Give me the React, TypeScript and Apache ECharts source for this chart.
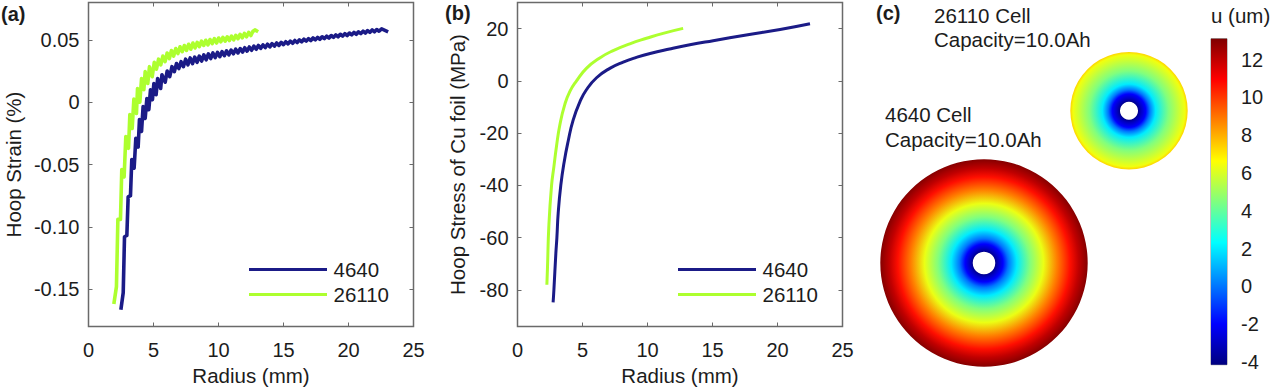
import React, { useEffect, useRef } from "react";
import * as echarts from "echarts";

const FONT = "Liberation Sans";
const INK = "#1c1c1c";
const FRAME = "#6a6a6a";
const NAVY = "#1b1b87";
const LIME = "#adff2f";

const radiusTicks = [0, 5, 10, 15, 20, 25];
const strainTicks = [-0.15, -0.1, -0.05, 0, 0.05];
const strainTickLabels = ["-0.15", "-0.10", "-0.05", "0", "0.05"];
const stressTicks = [-80, -60, -40, -20, 0, 20];
const uTicks = [-4, -2, 0, 2, 4, 6, 8, 10, 12];

const strain4640 = [
  [2.49, -0.1665], [2.67, -0.153], [2.77, -0.108], [2.95, -0.107], [3.05, -0.076], [3.23, -0.075],
  [3.33, -0.046], [3.51, -0.053], [3.64, -0.029], [3.82, -0.036], [3.92, -0.014], [4.08, -0.0235],
  [4.2, -0.0035], [4.36, -0.013], [4.49, 0.003], [4.64, -0.006], [4.77, 0.01], [4.92, 0.002],
  [5.03, 0.015], [5.2, 0.006], [5.32, 0.019], [5.55, 0.011], [5.65, 0.022], [5.9, 0.016], [6.05, 0.025],
  [6.25, 0.0205], [6.42, 0.0285], [6.6, 0.0245], [6.77, 0.031], [6.95, 0.027], [7.12, 0.0325],
  [7.3, 0.0285], [7.47, 0.0345], [7.65, 0.03], [7.82, 0.0355], [8.0, 0.031], [8.17, 0.0362],
  [8.35, 0.032], [8.52, 0.037], [8.7, 0.033], [8.87, 0.038], [9.05, 0.034], [9.22, 0.0388],
  [9.4, 0.035], [9.57, 0.0395], [9.75, 0.0358], [9.92, 0.04], [10.1, 0.0365], [10.27, 0.0405],
  [10.45, 0.0373], [10.62, 0.0412], [10.8, 0.038], [10.97, 0.0418], [11.15, 0.0388], [11.32, 0.0425],
  [11.5, 0.0395], [11.67, 0.043], [11.85, 0.0402], [12.02, 0.0437], [12.2, 0.041], [12.37, 0.0443],
  [12.55, 0.0417], [12.72, 0.045], [12.9, 0.0425], [13.07, 0.0455], [13.25, 0.0432], [13.42, 0.046],
  [13.6, 0.0438], [13.77, 0.0465], [13.95, 0.0444], [14.12, 0.047], [14.3, 0.045], [14.47, 0.0475],
  [14.65, 0.0456], [14.82, 0.048], [15.0, 0.0462], [15.17, 0.0485], [15.35, 0.0468], [15.52, 0.049],
  [15.7, 0.0473], [15.87, 0.0495], [16.05, 0.0479], [16.22, 0.05], [16.4, 0.0485], [16.57, 0.0505],
  [16.75, 0.049], [16.92, 0.051], [17.1, 0.0495], [17.27, 0.0515], [17.45, 0.05], [17.62, 0.052],
  [17.8, 0.0505], [17.97, 0.0525], [18.15, 0.051], [18.32, 0.053], [18.5, 0.0515], [18.67, 0.0535],
  [18.85, 0.052], [19.02, 0.054], [19.2, 0.0525], [19.37, 0.0545], [19.55, 0.053], [19.72, 0.055],
  [19.9, 0.0535], [20.07, 0.0555], [20.25, 0.054], [20.42, 0.056], [20.6, 0.0545], [20.77, 0.0565],
  [20.95, 0.055], [21.12, 0.057], [21.3, 0.0555], [21.47, 0.0575], [21.65, 0.056], [21.82, 0.058],
  [22.0, 0.0565], [22.17, 0.0583], [22.35, 0.057], [22.55, 0.0588], [23.05, 0.0565],
];

const strain26110 = [
  [1.95, -0.162], [2.15, -0.148], [2.26, -0.094], [2.46, -0.094], [2.56, -0.054], [2.74, -0.06],
  [2.87, -0.0275], [3.08, -0.037], [3.18, -0.01], [3.36, -0.021], [3.49, 0.0025], [3.69, -0.009],
  [3.77, 0.011], [3.95, 0.0], [4.08, 0.019], [4.26, 0.01], [4.36, 0.0245], [4.56, 0.015], [4.69, 0.0285],
  [4.9, 0.0205], [5.06, 0.032], [5.23, 0.0265], [5.39, 0.0345], [5.56, 0.03], [5.72, 0.037],
  [5.89, 0.0325], [6.05, 0.0395], [6.22, 0.035], [6.38, 0.0415], [6.55, 0.037], [6.71, 0.043],
  [6.88, 0.039], [7.04, 0.0445], [7.21, 0.0405], [7.37, 0.0455], [7.54, 0.0415], [7.7, 0.0465],
  [7.87, 0.0425], [8.03, 0.0475], [8.2, 0.0435], [8.36, 0.048], [8.53, 0.0445], [8.69, 0.049],
  [8.86, 0.0455], [9.02, 0.0497], [9.19, 0.046], [9.35, 0.0503], [9.52, 0.047], [9.68, 0.051],
  [9.85, 0.0475], [10.01, 0.0515], [10.18, 0.0485], [10.34, 0.052], [10.51, 0.049], [10.67, 0.0525],
  [10.84, 0.0495], [11.0, 0.053], [11.17, 0.05], [11.33, 0.0537], [11.5, 0.051], [11.66, 0.0545],
  [11.83, 0.0517], [11.99, 0.0552], [12.16, 0.0525], [12.32, 0.056], [12.49, 0.0535], [12.65, 0.057],
  [12.8, 0.058], [13.05, 0.0565],
];

const stress4640 = [
  [2.74, -84.8], [2.8, -80], [2.95, -66], [3.03, -60], [3.13, -50.6], [3.33, -40], [3.59, -31],
  [3.9, -23], [4.28, -15], [4.8, -8], [5.3, -3.4], [6.08, 1.2], [7.1, 4.8], [8.13, 7.2],
  [9.15, 9], [10.2, 10.5], [11.7, 12.2], [13.26, 13.8], [15.05, 15.4], [17.6, 17.6], [20.2, 19.7], [22.5, 21.9],
];

const stress26110 = [
  [2.26, -78], [2.31, -71], [2.41, -55.7], [2.62, -40], [2.8, -32.8], [3.0, -25], [3.26, -16.8],
  [3.64, -9], [4.03, -4], [4.54, 0], [5.3, 4.8], [6.33, 8.8], [7.36, 11.6], [8.64, 14.2],
  [9.92, 16.3], [11.2, 18.2], [12.74, 20.1],
];

// radial displacement profile: [radius in mm, u in um]
const u4640 = [
  [2.5, -3.9], [3.2, -3.0], [4.2, -2], [5.4, 0], [7.3, 2], [10.2, 4.5], [13.2, 6.3], [16.2, 8.8], [19.1, 10.7], [21, 12], [23, 13],
];
const u26110 = [
  [2, -3.9], [2.7, -3], [3.7, -2], [4.6, 0], [5.9, 2], [8.8, 4.5], [11.6, 6], [12.4, 6.4], [13, 7.4],
];

const uMin = -4.14;
const uMax = 13.1;
const jetStops: [number, string][] = [
  [0, "#00007f"], [0.125, "#0000ff"], [0.375, "#00ffff"], [0.625, "#ffff00"], [0.875, "#ff0000"], [1, "#7f0000"],
];

function hexToRgb(h: string) {
  return [1, 3, 5].map((i) => parseInt(h.slice(i, i + 2), 16));
}
function jet(u: number) {
  const t = Math.min(1, Math.max(0, (u - uMin) / (uMax - uMin)));
  for (let i = 1; i < jetStops.length; i++) {
    if (t <= jetStops[i][0]) {
      const [t0, c0] = jetStops[i - 1];
      const [t1, c1] = jetStops[i];
      const f = (t - t0) / (t1 - t0);
      const a = hexToRgb(c0);
      const b = hexToRgb(c1);
      const m = a.map((v, k) => Math.round(v + (b[k] - v) * f));
      return `rgb(${m[0]},${m[1]},${m[2]})`;
    }
  }
  return jetStops[jetStops.length - 1][1];
}

const discRender = (profile: number[][]) => (params: any, api: any) => {
  const cs = params.coordSys;
  const outerVal = profile[profile.length - 1][0];
  const innerVal = profile[0][0];
  const px = (v: number) => {
    const p = api.coord([v, 0]);
    return Math.hypot(p[0] - cs.cx, p[1] - cs.cy);
  };
  return {
    type: "ring",
    shape: { cx: cs.cx, cy: cs.cy, r: px(outerVal), r0: px(innerVal) },
    style: {
      fill: new echarts.graphic.RadialGradient(
        0.5, 0.5, 0.5,
        [{ offset: 0, color: jet(profile[0][1]) }].concat(
          profile.map(([r, u]) => ({ offset: r / outerVal, color: jet(u) }))
        )
      ),
    },
  };
};

const barRender = (_params: any, api: any) => {
  const top = api.coord([0, uMax]);
  const bottom = api.coord([0, uMin]);
  const size = api.size([1, 0]);
  return {
    type: "rect",
    shape: { x: top[0] - size[0] / 2, y: top[1], width: size[0], height: bottom[1] - top[1] },
    style: {
      fill: new echarts.graphic.LinearGradient(
        0, 1, 0, 0,
        jetStops.map(([offset, color]) => ({ offset, color }))
      ),
    },
  };
};

const label = { color: INK, fontFamily: FONT, fontSize: 20 };
const hiddenLine = { show: false, onZero: false };
const tick = (values?: number[]) => ({
  show: true,
  inside: true,
  length: 4,
  lineStyle: { color: FRAME, width: 1 },
  ...(values ? { customValues: values } : {}),
});

const xAxes = (gridIndex: number) => [
  {
    type: "value", gridIndex, min: 0, max: 25, interval: 5, position: "bottom",
    name: "Radius (mm)", nameLocation: "middle", nameGap: 38, nameMoveOverlap: false,
    nameTextStyle: { ...label, fontSize: 20.5 },
    axisLine: hiddenLine, splitLine: { show: false },
    axisTick: tick(),
    axisLabel: { ...label, margin: 13, customValues: radiusTicks },
  },
  {
    type: "value", gridIndex, min: 0, max: 25, interval: 5, position: "top",
    axisLine: hiddenLine, splitLine: { show: false }, axisLabel: { show: false },
    axisTick: tick(),
  },
];

const yAxes = (
  gridIndex: number, min: number, max: number, ticks: number[], name: string, nameGap: number,
  fmt: (v: number) => string, margin: number
) => [
  {
    type: "value", gridIndex, min, max, position: "left",
    name, nameLocation: "middle", nameGap, nameMoveOverlap: false,
    nameTextStyle: { ...label, fontSize: 20.5 },
    axisLine: hiddenLine, splitLine: { show: false },
    axisTick: tick(ticks),
    axisLabel: { ...label, margin, padding: [5, 0, 0, 0], customValues: ticks, formatter: fmt },
  },
  {
    type: "value", gridIndex, min, max, position: "right",
    axisLine: hiddenLine, splitLine: { show: false }, axisLabel: { show: false },
    axisTick: tick(ticks),
  },
];

const text = (x: number, y: number, t: string, bold = false) => ({
  type: "text",
  x, y,
  style: {
    text: t, fill: INK, fontFamily: FONT, fontSize: bold ? 20 : 20.5,
    fontWeight: bold ? "bold" : "normal", verticalAlign: "middle", align: "left",
  },
});

const curve = (name: string, color: string, data: number[][], x: number, y: number, width: number, smooth: boolean) => ({
  type: "line", name, data, xAxisIndex: x, yAxisIndex: y, color,
  showSymbol: false, smooth,
  lineStyle: { color, width, join: "round" },
});

const legend = (left: number) => ({
  left, top: 254, orient: "vertical", icon: "rect", itemWidth: 78, itemHeight: 3, itemGap: 4,
  data: ["4640", "26110"],
  selectedMode: false,
  textStyle: { ...label, fontSize: 20.5, padding: [0, 0, 0, 1.5] },
});

export default function App() {
  const ref = useRef<HTMLDivElement>(null);
  useEffect(() => {
    document.body.style.margin = "0";
    const chart = echarts.init(ref.current!, null, { renderer: "svg" });
    chart.setOption({
      animation: false,
      backgroundColor: "#ffffff",
      grid: [
        { left: 88.5, top: 2.5, width: 325, height: 324, outerBoundsMode: "none", show: true, borderColor: FRAME, borderWidth: 1.5, backgroundColor: "transparent" },
        { left: 517.5, top: 2.5, width: 325, height: 324, outerBoundsMode: "none", show: true, borderColor: FRAME, borderWidth: 1.5, backgroundColor: "transparent" },
        { left: 1211, top: 38.7, width: 16, height: 326, outerBoundsMode: "none", show: true, borderColor: "#888888", borderWidth: 1, backgroundColor: "transparent" },
      ],
      xAxis: [
        ...xAxes(0),
        ...xAxes(1),
        { type: "category", gridIndex: 2, data: ["u"], show: false },
      ],
      yAxis: [
        ...yAxes(0, -0.18, 0.08, strainTicks, "Hoop Strain (%)", 65,
          (v) => strainTickLabels[strainTicks.findIndex((t) => Math.abs(t - v) < 1e-6)] ?? "", 9),
        ...yAxes(1, -94, 30, stressTicks, "Hoop Stress of Cu foil (MPa)", 50, (v) => String(v), 9),
        {
          type: "value", gridIndex: 2, min: uMin, max: uMax, position: "right",
          axisLine: hiddenLine, splitLine: { show: false },
          axisTick: { show: true, inside: true, length: 2, customValues: uTicks, lineStyle: { color: "#555555", width: 1 } },
          axisLabel: { ...label, margin: 14, customValues: uTicks },
        },
        {
          type: "value", gridIndex: 2, min: uMin, max: uMax, position: "left",
          axisLine: hiddenLine, splitLine: { show: false }, axisLabel: { show: false },
          axisTick: { show: true, inside: true, length: 2, customValues: uTicks, lineStyle: { color: "#555555", width: 1 } },
        },
      ],
      polar: [
        { center: [984, 263], radius: [0, 103.7] },
        { center: [1129, 110.7], radius: [0, 58.7] },
      ],
      radiusAxis: [
        { polarIndex: 0, type: "value", min: 0, max: u4640[u4640.length - 1][0], show: false },
        { polarIndex: 1, type: "value", min: 0, max: u26110[u26110.length - 1][0], show: false },
      ],
      angleAxis: [
        { polarIndex: 0, type: "value", min: 0, max: 360, show: false },
        { polarIndex: 1, type: "value", min: 0, max: 360, show: false },
      ],
      legend: [legend(244), legend(673)],
      graphic: [
        text(1, 14, "(a)", true),
        text(445, 13, "(b)", true),
        text(876, 13, "(c)", true),
        text(934, 15, "26110 Cell"),
        text(934, 39.5, "Capacity=10.0Ah"),
        text(885, 114.5, "4640 Cell"),
        text(885, 139.5, "Capacity=10.0Ah"),
        text(1211, 15, "u (um)"),
      ],
      series: [
        curve("4640", NAVY, strain4640, 0, 0, 3.6, false),
        curve("26110", LIME, strain26110, 0, 0, 3.6, false),
        curve("4640", NAVY, stress4640, 2, 2, 3, true),
        curve("26110", LIME, stress26110, 2, 2, 3, true),
        { type: "custom", coordinateSystem: "polar", polarIndex: 0, silent: true, renderItem: discRender(u4640), data: [[u4640[0][0], 0]] },
        { type: "custom", coordinateSystem: "polar", polarIndex: 1, silent: true, renderItem: discRender(u26110), data: [[u26110[0][0], 0]] },
        { type: "custom", xAxisIndex: 4, yAxisIndex: 4, silent: true, renderItem: barRender, data: [[0, uMax]], z: 1 },
      ],
    });
    return () => chart.dispose();
  }, []);
  return <div ref={ref} style={{ width: 1270, height: 391 }} />;
}
